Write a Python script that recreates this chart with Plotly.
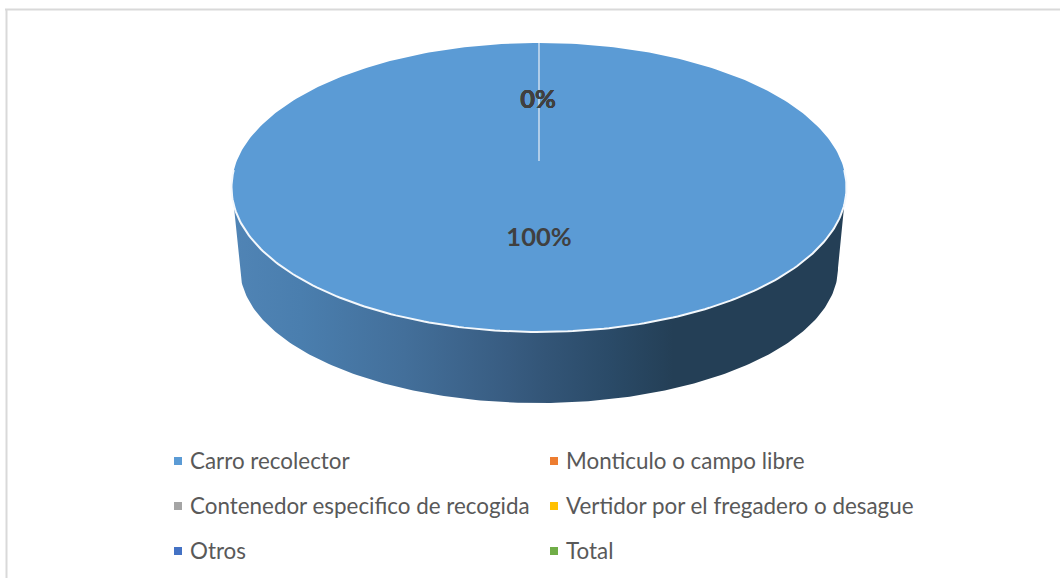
import numpy as np
import plotly.graph_objects as go

categories = ['Carro recolector', 'Monticulo o campo libre',
              'Contenedor especifico de recogida', 'Vertidor por el fregadero o desague',
              'Otros', 'Total']
values = [100, 0, 0, 0, 0, 0]
colors = ['#5B9BD5', '#ED7D31', '#A5A5A5', '#FFC000', '#4472C4', '#70AD47']

WALL_STOPS = [[0, '#5084B5'], [0.11, '#4A7EAE'], [0.28, '#436F9A'], [0.45, '#385C81'],
              [0.51, '#335577'], [0.62, '#2A4A67'], [0.72, '#243F56'], [1, '#243F56']]
TEXT_FONT = 'Lato, Carlito, Calibri, sans-serif'

# pie drawn in page pixels, the ellipse is the tilted disc
CX, CY, RX, RY = 539, 187.5, 307.5, 144.5
APEX_Y = 161
LOW_CY, LOW_RX, LOW_RY = 268, 299, 135
WALL_Y = 205


def rim(deg):
    # degrees clockwise from 12 o'clock
    a = np.radians(deg)
    return CX + RX * np.sin(a), CY - RY * np.cos(a)


fig = go.Figure()

# side wall
t = np.radians(np.linspace(180, 0, 200))
wall_x = list(CX + LOW_RX * np.cos(t))
wall_y = list(LOW_CY + LOW_RY * np.sin(t))
dy = (WALL_Y - CY) / RY
dx = RX * np.sqrt(1 - dy ** 2)
wall_x = [CX - dx] + wall_x + [CX + dx, CX - dx]
wall_y = [WALL_Y] + wall_y + [WALL_Y, WALL_Y]
fig.add_trace(go.Scatter(x=wall_x, y=wall_y, mode='lines', fill='toself', line=dict(width=0),
                         fillgradient=dict(type='horizontal', colorscale=WALL_STOPS,
                                           start=CX - dx, stop=CX + dx),
                         hoverinfo='skip', showlegend=False))

# top slices from the values
start = 0
total = sum(values)
seams = []
for value, color in zip(values, colors):
    sweep = 360 * value / total
    if value == 0:
        seams.append(start % 360)
        start += sweep
        continue
    xs, ys = rim(np.linspace(start, start + sweep, 361))
    fig.add_trace(go.Scatter(x=list(xs) + [CX], y=list(ys) + [APEX_Y], mode='lines', fill='toself',
                             fillcolor=color, line=dict(width=0), hoverinfo='skip', showlegend=False))
    start += sweep

# white rim on the front edge
deg = np.degrees(np.arccos(dy))
xs, ys = rim(np.linspace(deg, 360 - deg, 200))
fig.add_trace(go.Scatter(x=xs, y=ys, mode='lines', line=dict(color='#F4F8FC', width=2),
                         hoverinfo='skip', showlegend=False))

# seam left by the empty slices
seam_x, seam_y = rim(seams[0])
fig.add_trace(go.Scatter(x=[seam_x, CX], y=[seam_y, APEX_Y], mode='lines',
                         line=dict(color='#C6DAEE', width=1.6), hoverinfo='skip', showlegend=False))

# value labels, the empty slices all land on the same spot
label_x = [539 if v else 538 for v in values]
label_y = [240 if v else 102 for v in values]
fig.add_trace(go.Scatter(x=label_x, y=label_y, mode='text', text=['{}%'.format(v) for v in values],
                         textposition='middle center',
                         textfont=dict(family=TEXT_FONT, size=25.5, color='#404040', weight='bold'),
                         hoverinfo='skip', showlegend=False))

# legend, two columns
legend_x = [178, 554, 178, 554, 178, 554]
legend_y = [461, 461, 506, 506, 551, 551]
fig.add_trace(go.Scatter(x=legend_x, y=legend_y, mode='markers',
                         marker=dict(symbol='square', size=8, color=colors, line=dict(width=0)),
                         hoverinfo='skip', showlegend=False))
for name, lx, ly in zip(categories, legend_x, legend_y):
    fig.add_annotation(x=lx + 12, y=ly, text=name, showarrow=False, xanchor='left', yanchor='middle',
                       xshift=-2, yshift=1, font=dict(family=TEXT_FONT, size=22.4, color='#595959'))

# chart frame, cut off by the picture on the right and bottom
fig.add_shape(type='line', x0=5, x1=1060, y0=9.5, y1=9.5, line=dict(color='#D9D9D9', width=2))
fig.add_shape(type='line', x0=6.5, x1=6.5, y0=9, y1=578, line=dict(color='#D9D9D9', width=2))

fig.update_xaxes(range=[0, 1060], visible=False, fixedrange=True)
fig.update_yaxes(range=[578, 0], visible=False, fixedrange=True)
fig.update_layout(width=1060, height=578, margin=dict(l=0, r=0, t=0, b=0),
                  plot_bgcolor='white', paper_bgcolor='white', showlegend=False)
fig.write_html('out.html', config={'displayModeBar': False},
               post_script="document.body.style.margin='0';document.body.style.overflow='hidden';")
